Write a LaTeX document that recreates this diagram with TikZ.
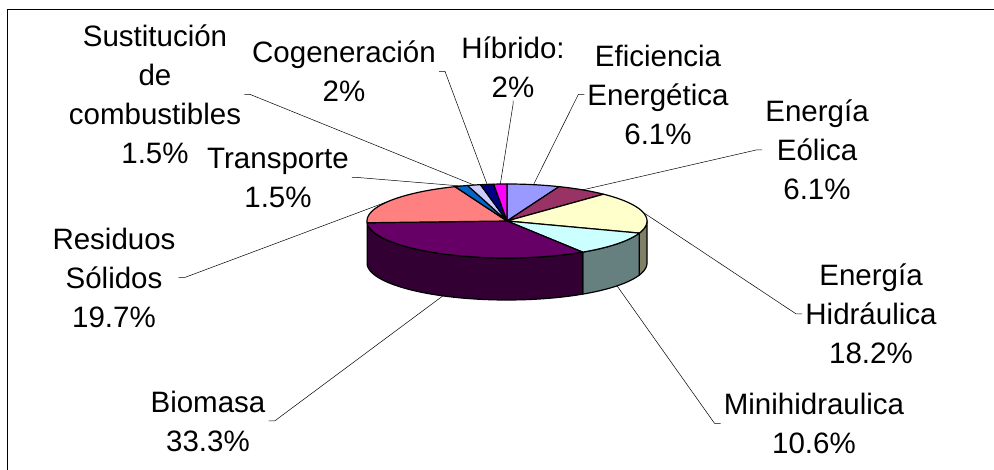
\documentclass[tikz,border=0pt]{standalone}
\usepackage{fontspec}
\setmainfont{Liberation Sans}
\usepackage{xcolor}
\usetikzlibrary{calc,positioning}
\definecolor{cEff}{HTML}{9999FF}
\definecolor{cEol}{HTML}{993366}
\definecolor{cHid}{HTML}{FFFFCC}
\definecolor{cMin}{HTML}{CCFFFF}
\definecolor{cBio}{HTML}{660066}
\definecolor{cRes}{HTML}{FF8080}
\definecolor{cTra}{HTML}{0066CC}
\definecolor{cSus}{HTML}{CCCCFF}
\definecolor{cCog}{HTML}{000080}
\definecolor{cHib}{HTML}{FF00FF}
\tikzset{%
	slice/.style  = {draw=black, line width=1.2pt, line join=round},
	leader/.style = {draw=black, line width=0.5pt},
	lbl/.style    = {font=\fontsize{29.5}{39}\selectfont, align=center, inner sep=3pt},
	frame/.style  = {draw=black, line width=1pt},
}
% top face and front wall of the pie (centre 507,221; radii 140,37; depth 42)
\newcommand{\topslice}[3]{\filldraw[slice,fill=#1] (apex) -- plot[domain=#2:#3,samples=40] ({507+140*sin(\x)},{221-37*cos(\x)}) -- cycle;}
\newcommand{\sideslice}[3]{\filldraw[slice,fill=#1] plot[domain=#2:#3,samples=40] ({507+140*sin(\x)},{221-37*cos(\x)}) -- plot[domain=#3:#2,samples=40] ({507+140*sin(\x)},{263-37*cos(\x)}) -- cycle;}

\begin{document}
\begin{tikzpicture}[x=1pt,y=-1pt]
	\useasboundingbox (0,0) rectangle (994,470);
	\draw[frame] (7,470) -- (7,10) -- (994,10);
	\coordinate (apex) at (507,221);
	% walls
	\sideslice{cHid!50!black}{90}{109.091}
	\sideslice{cMin!50!black}{109.091}{147.273}
	\sideslice{cBio!50!black}{147.273}{267.273}
	% slices
	\topslice{cEff}{0}{21.818}
	\topslice{cEol}{21.818}{43.636}
	\topslice{cHid}{43.636}{109.091}
	\topslice{cMin}{109.091}{147.273}
	\topslice{cBio}{147.273}{267.273}
	\topslice{cRes}{267.273}{338.182}
	\topslice{cTra}{338.182}{343.636}
	\topslice{cSus}{343.636}{349.091}
	\topslice{cCog}{349.091}{354.545}
	\topslice{cHib}{354.545}{360}
	% leader ends on the rim
	\coordinate (rimEff) at ({507+140*sin(10.91)},{221-37*cos(10.91)});
	\coordinate (rimEol) at ({507+140*sin(32.73)},{221-37*cos(32.73)});
	\coordinate (rimHid) at ({507+140*sin(76.36)},{221-37*cos(76.36)});
	\coordinate (rimMin) at ({507+140*sin(128.18)},{263-37*cos(128.18)});
	\coordinate (rimBio) at ({507+140*sin(207.27)},{263-37*cos(207.27)});
	\coordinate (rimRes) at ({507+140*sin(302.73)},{221-37*cos(302.73)});
	\coordinate (rimTra) at ({507+140*sin(340.91)},{221-37*cos(340.91)});
	\coordinate (rimSus) at ({507+140*sin(346.36)},{221-37*cos(346.36)});
	\coordinate (rimCog) at ({507+140*sin(351.82)},{221-37*cos(351.82)});
	\coordinate (rimHib) at ({507+140*sin(357.27)},{221-37*cos(357.27)});
	% labels
	\node[lbl] (lblSus) at (155,94.5) {Sustitución\\de\\combustibles\\1.5\%};
	\node[lbl] (lblTra) at (278,177.5) {Transporte\\1.5\%};
	\node[lbl] (lblCog) at (344,71.5) {Cogeneración\\2\%};
	\node[lbl] (lblHib) at (513,67) {Híbrido:\\2\%};
	\node[lbl] (lblEff) at (658,94.5) {Eficiencia\\Energética\\6.1\%};
	\node[lbl] (lblEol) at (817,150) {Energía\\Eólica\\6.1\%};
	\node[lbl] (lblHid) at (871,314) {Energía\\Hidráulica\\18.2\%};
	\node[lbl] (lblMin) at (814,423.5) {Minihidraulica\\10.6\%};
	\node[lbl] (lblRes) at (114,277.5) {Residuos\\Sólidos\\19.7\%};
	\node[lbl] (lblBio) at (208,421) {Biomasa\\33.3\%};
	% leaders
	\draw[leader] (lblSus.east) -- ++(6,0) -- (rimSus);
	\draw[leader] (lblTra.east) -- ++(6,0) -- (rimTra);
	\draw[leader] (lblCog.east) -- ++(6,0) -- (rimCog);
	\draw[leader] (lblHib.south) -- ++(0,4) -- (rimHib);
	\draw[leader] (lblEff.west) -- ++(-6,0) -- (rimEff);
	\draw[leader] (lblEol.west) -- ++(-6,0) -- (rimEol);
	\draw[leader] (lblHid.west) -- ++(-6,0) -- (rimHid);
	\draw[leader] (lblMin.west) -- ++(-6,0) -- (rimMin);
	\draw[leader] (lblRes.east) -- ++(6,0) -- (rimRes);
	\draw[leader] (lblBio.east) -- ++(6,0) -- (rimBio);
\end{tikzpicture}
\end{document}
